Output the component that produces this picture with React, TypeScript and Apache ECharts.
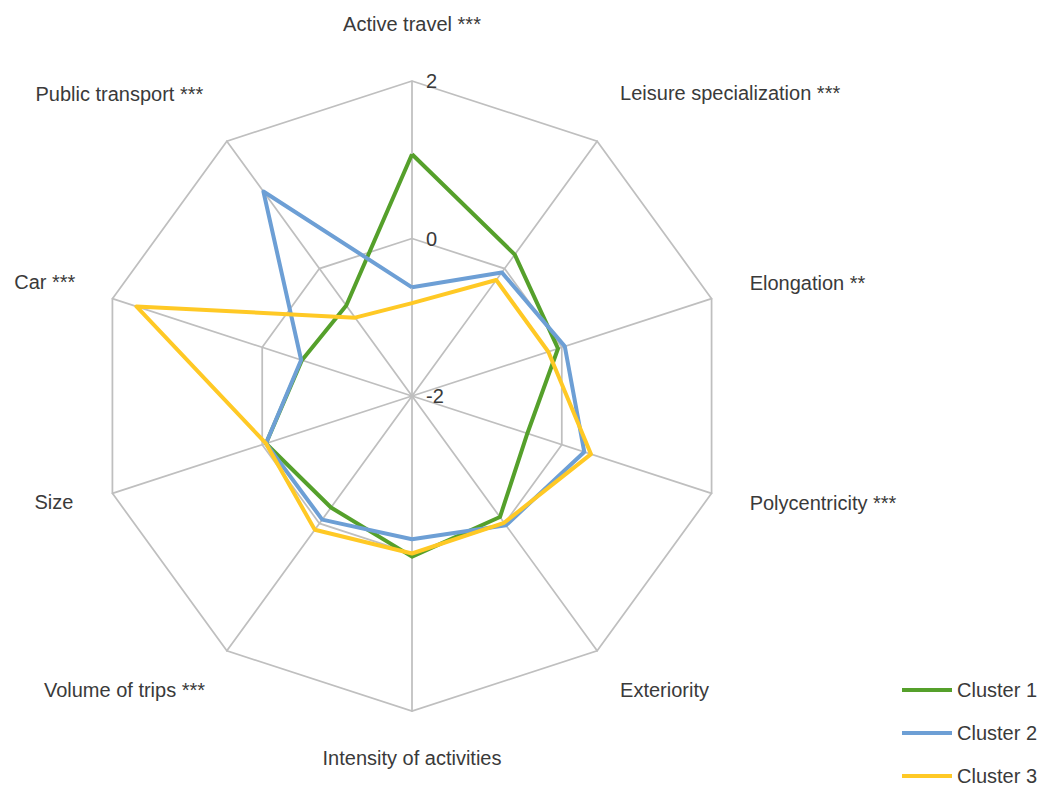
import React, { useEffect, useRef } from "react";
import * as echarts from "echarts";

// Indicators, counter-clockwise from the top (ECharts radar order)
const indicatorNames = [
  "Active travel ***",
  "Public transport ***",
  "Car ***",
  "Size",
  "Volume of trips ***",
  "Intensity of activities",
  "Exteriority",
  "Polycentricity ***",
  "Elongation **",
  "Leisure specialization ***",
];
const axisMin = -2;
const axisMax = 2;
const seriesNames = ["Cluster 1", "Cluster 2", "Cluster 3"];
const cluster1 = [1.07, -0.58, -0.53, -0.05, -0.25, 0.04, -0.1, -0.46, -0.05, 0.22];
const cluster2 = [-0.62, 1.21, -0.52, -0.05, -0.06, -0.18, 0.03, 0.3, 0.04, -0.06];
const cluster3 = [-0.82, -0.77, 1.68, -0.05, 0.1, 0.0, -0.01, 0.39, -0.18, -0.18];

// label placement (style only)
const nameGaps = [47, 40, 39, 41, 37, 37, 39, 40, 40, 39];
const namePads = [
  [0, 0, 0, 0],
  [0, 0, 30, 0],
  [0, 0, 9, 0],
  [0, 0, 8, 0],
  [18, 0, 0, 0],
  [0, 0, 0, 0],
  [16, 0, 0, 0],
  [0, 0, 6, 0],
  [0, 0, 6, 0],
  [0, 0, 34, 0],
];

const colors = ["#55A02B", "#6D9FD5", "#FFC925"];
const FONT = "'Liberation Sans', Arial, sans-serif";
const TEXT = "#3a3a3a";

export default function App() {
  const ref = useRef<HTMLDivElement>(null);
  useEffect(() => {
    if (!ref.current) return;
    const chart = echarts.init(ref.current, undefined, { renderer: "svg" });
    const indicator = indicatorNames.map((name, i) => {
      const o: any = {
        name,
        min: axisMin,
        max: axisMax,
        nameGap: nameGaps[i],
      };
      if (i === 0) {
        o.axisLabel = {
          show: true,
          fontSize: 20,
          fontFamily: FONT,
          color: TEXT,
          margin: -14,
          align: "left",
          verticalAlign: "middle",
        };
      }
      return o;
    });
    const rich: any = {};
    namePads.forEach((p, i) => {
      rich["p" + i] = { padding: p, fontSize: 20, fontFamily: FONT, color: TEXT };
    });
    chart.setOption({
      animation: false,
      backgroundColor: "#ffffff",
      color: colors,
      legend: {
        orient: "vertical",
        left: 902,
        top: 680,
        height: 120,
        padding: 0,
        itemWidth: 50,
        itemHeight: 4,
        itemGap: 23,
        icon: "rect",
        data: seriesNames,
        textStyle: { fontSize: 20, fontFamily: FONT, color: TEXT },
      },
      radar: {
        center: [412, 396],
        radius: 315,
        startAngle: 90,
        splitNumber: 2,
        shape: "polygon",
        indicator,
        axisName: {
          fontSize: 20,
          fontFamily: FONT,
          color: TEXT,
          formatter: (name: string) => {
            const i = indicatorNames.indexOf(name);
            return "{p" + i + "|" + name + "}";
          },
          rich,
        },
        axisLine: { lineStyle: { color: "#BFBFBF", width: 1.75 } },
        splitLine: { lineStyle: { color: "#BFBFBF", width: 1.75 } },
        splitArea: { show: false },
        axisTick: { show: false },
        axisLabel: { show: false },
      },
      series: [
        {
          type: "radar",
          symbol: "none",
          data: [
            { name: seriesNames[0], value: cluster1, lineStyle: { color: colors[0], width: 4 }, itemStyle: { color: colors[0] } },
            { name: seriesNames[1], value: cluster2, lineStyle: { color: colors[1], width: 4 }, itemStyle: { color: colors[1] } },
            { name: seriesNames[2], value: cluster3, lineStyle: { color: colors[2], width: 4 }, itemStyle: { color: colors[2] } },
          ],
        },
      ],
    });
    return () => chart.dispose();
  }, []);
  return (
    <div
      ref={ref}
      style={{ position: "fixed", left: 0, top: 0, width: 1044, height: 787 }}
    />
  );
}
